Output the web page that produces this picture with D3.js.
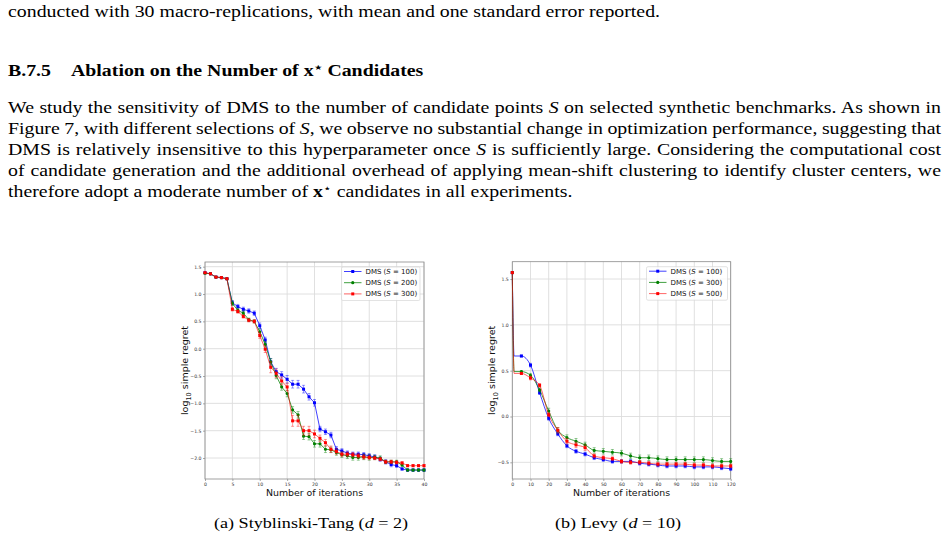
<!DOCTYPE html>
<html>
<head>
<meta charset="utf-8">
<script src="https://cdn.jsdelivr.net/npm/d3@7"></script>
<style>
  body { margin: 0; background: #fff; }
  svg { display: block; }
</style>
</head>
<body>
<svg id="page" width="949" height="541"></svg>
<script>
// ---- data: Styblinski-Tang (d = 2) ----
const stIter = d3.range(0, 41);
const stS100 = [1.39,1.37,1.31,1.30,1.28,0.84,0.77,0.72,0.69,0.65,0.42,0.16,-0.24,-0.42,-0.48,-0.56,-0.65,-0.65,-0.74,-0.88,-0.99,-1.47,-1.52,-1.58,-1.84,-1.87,-1.91,-1.93,-1.93,-1.94,-1.96,-1.98,-2.02,-2.07,-2.12,-2.14,-2.20,-2.22,-2.22,-2.22,-2.22];
const stS200 = [1.38,1.37,1.31,1.30,1.28,0.83,0.70,0.65,0.53,0.50,0.31,0.08,-0.24,-0.49,-0.70,-0.82,-1.12,-1.21,-1.60,-1.61,-1.74,-1.74,-1.84,-1.85,-1.90,-1.94,-1.96,-1.99,-1.99,-1.98,-1.99,-1.99,-2.00,-2.07,-2.07,-2.07,-2.13,-2.22,-2.22,-2.22,-2.22];
const stS300 = [1.39,1.37,1.31,1.30,1.28,0.72,0.68,0.59,0.52,0.50,0.24,-0.01,-0.34,-0.45,-0.59,-0.70,-1.32,-1.32,-1.50,-1.50,-1.56,-1.64,-1.72,-1.84,-1.88,-1.93,-1.93,-1.94,-1.96,-1.98,-1.99,-2.00,-2.02,-2.07,-2.07,-2.08,-2.09,-2.14,-2.14,-2.14,-2.14];
const stS100Err = [0.01,0.01,0.01,0.01,0.01,0.04,0.04,0.04,0.04,0.04,0.05,0.05,0.06,0.06,0.06,0.07,0.07,0.07,0.07,0.06,0.06,0.05,0.05,0.05,0.05,0.04,0.04,0.04,0.04,0.04,0.04,0.04,0.04,0.04,0.04,0.03,0.02,0.02,0.02,0.02,0.02];
const stS200Err = [0.01,0.01,0.01,0.01,0.01,0.04,0.04,0.04,0.03,0.03,0.05,0.05,0.06,0.06,0.06,0.06,0.06,0.06,0.06,0.06,0.06,0.06,0.06,0.05,0.05,0.05,0.05,0.05,0.05,0.05,0.05,0.04,0.04,0.03,0.03,0.03,0.02,0.02,0.02,0.02,0.02];
const stS300Err = [0.01,0.01,0.01,0.01,0.01,0.03,0.03,0.03,0.03,0.03,0.05,0.06,0.10,0.08,0.07,0.07,0.10,0.10,0.08,0.08,0.07,0.06,0.06,0.06,0.05,0.04,0.04,0.04,0.04,0.04,0.04,0.03,0.03,0.03,0.03,0.03,0.02,0.02,0.02,0.02,0.02];

// ---- data: Levy (d = 10) ----
const levyIter = [0,1,5,10,15,20,25,30,35,40,45,50,55,60,65,70,75,80,85,90,95,100,105,110,115,120];
const levyS100 = [1.57,0.66,0.66,0.56,0.26,-0.02,-0.19,-0.32,-0.38,-0.41,-0.45,-0.47,-0.49,-0.49,-0.49,-0.51,-0.52,-0.53,-0.54,-0.54,-0.54,-0.55,-0.55,-0.55,-0.56,-0.57];
const levyS300 = [1.57,0.49,0.49,0.45,0.29,0.06,-0.15,-0.23,-0.27,-0.31,-0.37,-0.38,-0.39,-0.40,-0.43,-0.45,-0.45,-0.46,-0.47,-0.47,-0.47,-0.47,-0.47,-0.48,-0.49,-0.49];
const levyS500 = [1.57,0.47,0.47,0.42,0.34,0.02,-0.15,-0.27,-0.31,-0.34,-0.43,-0.45,-0.46,-0.49,-0.50,-0.50,-0.51,-0.52,-0.52,-0.52,-0.52,-0.53,-0.53,-0.54,-0.54,-0.54];
const levyS100Err = [0.01,0.01,0.01,0.02,0.02,0.02,0.02,0.02,0.02,0.02,0.02,0.02,0.02,0.02,0.02,0.02,0.02,0.02,0.02,0.02,0.02,0.02,0.02,0.02,0.02,0.02];
const levyS300Err = [0.01,0.01,0.01,0.02,0.02,0.03,0.03,0.03,0.03,0.03,0.03,0.03,0.03,0.03,0.03,0.03,0.03,0.03,0.03,0.03,0.03,0.03,0.03,0.03,0.03,0.03];
const levyS500Err = [0.01,0.01,0.01,0.02,0.02,0.02,0.03,0.03,0.03,0.03,0.02,0.02,0.02,0.02,0.02,0.02,0.02,0.02,0.02,0.02,0.02,0.02,0.02,0.02,0.02,0.02];

// tick labels
const stXTicks = [0,5,10,15,20,25,30,35,40];
const stYTicks = [1.5,1.0,0.5,0.0,-0.5,-1.0,-1.5,-2.0];
const levyXTicks = [0,10,20,30,40,50,60,70,80,90,100,110,120];
const levyYTicks = [1.5,1.0,0.5,0.0,-0.5];

const stLabels = ["100", "200", "300"];
const levyLabels = ["100", "300", "500"];

// ---- prose ----
const serif = "'Liberation Serif', 'Times New Roman', serif";
const sans = "'DejaVu Sans', sans-serif";
const svg = d3.select("#page");

// the page text is rendered a bit wider than plain Times, so stretch it horizontally
const sx = 1.24;
const fs = 16;

function addLine(x, y, segs, width, size, weight) {
  const t = svg.append("text")
    .attr("transform", `translate(${x},${y}) scale(${sx},1)`)
    .attr("font-family", serif)
    .attr("font-size", size)
    .attr("font-weight", weight || "normal")
    .attr("fill", "#000");
  segs.forEach(s => {
    const sp = t.append("tspan").text(s.t);
    if (s.i) sp.attr("font-style", "italic");
    if (s.b) sp.attr("font-weight", "bold");
    if (s.sup) sp.attr("font-size", size * 0.7).attr("dy", -5);
    if (s.down) sp.attr("dy", 5);
  });
  if (width) {
    const natural = t.node().getComputedTextLength();
    const nSpaces = segs.map(s => s.t).join("").split(" ").length - 1;
    t.attr("word-spacing", (width / sx - natural) / nSpaces);
  }
  return t;
}

addLine(8, 17, [{t: "conducted with 30 macro-replications, with mean and one standard error reported."}], null, fs);
addLine(8, 76, [{t: "B.7.5"}], null, fs, "bold");
addLine(71, 76, [{t: "Ablation on the Number of "}, {t: "x", b: true}, {t: "\u22C6", sup: true}, {t: " Candidates", down: true}], null, fs, "bold");

const paraW = 933;
addLine(8, 113, [{t: "We study the sensitivity of DMS to the number of candidate points "}, {t: "S", i: true}, {t: " on selected synthetic benchmarks. As shown in"}], paraW, fs);
addLine(8, 134, [{t: "Figure 7, with different selections of "}, {t: "S", i: true}, {t: ", we observe no substantial change in optimization performance, suggesting that"}], paraW, fs);
addLine(8, 155, [{t: "DMS is relatively insensitive to this hyperparameter once "}, {t: "S", i: true}, {t: " is sufficiently large. Considering the computational cost"}], paraW, fs);
addLine(8, 176, [{t: "of candidate generation and the additional overhead of applying mean-shift clustering to identify cluster centers, we"}], paraW, fs);
addLine(8, 197, [{t: "therefore adopt a moderate number of "}, {t: "x", b: true}, {t: "\u22C6", sup: true}, {t: " candidates in all experiments.", down: true}], null, fs);

// ---- panels ----
const colors = ["#0000ff", "#008000", "#ff0000"];

function drawPanel(cfg) {
  const x = d3.scaleLinear().domain(cfg.xDomain).range([cfg.left, cfg.right]);
  const y = d3.scaleLinear().domain(cfg.yDomain).range([cfg.bottom, cfg.top]);
  const g = svg.append("g");

  // grid
  g.append("g").selectAll("line").data(cfg.xTicks).join("line")
    .attr("x1", d => x(d)).attr("x2", d => x(d))
    .attr("y1", cfg.top).attr("y2", cfg.bottom)
    .attr("stroke", "#dcdcdc").attr("stroke-width", 0.9);
  g.append("g").selectAll("line").data(cfg.yTicks).join("line")
    .attr("y1", d => y(d)).attr("y2", d => y(d))
    .attr("x1", cfg.left).attr("x2", cfg.right)
    .attr("stroke", "#dcdcdc").attr("stroke-width", 0.9);

  // axes
  const xAxis = d3.axisBottom(x).tickValues(cfg.xTicks).tickSize(2).tickPadding(1.5)
    .tickFormat(d3.format("d"));
  const yAxis = d3.axisLeft(y).tickValues(cfg.yTicks).tickSize(2).tickPadding(1.5)
    .tickFormat(d => d3.format(".1f")(d).replace("-", "\u2212"));
  [g.append("g").attr("transform", `translate(0,${cfg.bottom})`).call(xAxis),
   g.append("g").attr("transform", `translate(${cfg.left},0)`).call(yAxis)].forEach(a => {
    a.select(".domain").remove();
    a.selectAll(".tick line").attr("stroke", "#555").attr("stroke-width", 0.5);
    a.selectAll(".tick text").attr("font-family", sans).attr("font-size", 4.6).attr("fill", "#333");
  });

  // frame
  g.append("rect")
    .attr("x", cfg.left).attr("y", cfg.top)
    .attr("width", cfg.right - cfg.left).attr("height", cfg.bottom - cfg.top)
    .attr("fill", "none").attr("stroke", "#8a8a8a").attr("stroke-width", 0.8);

  // series
  const plot = g.append("g");
  cfg.series.forEach((s, si) => {
    const c = colors[si];
    const pts = cfg.iter.map((it, i) => ({x: it, y: s.values[i], e: s.err[i]}));
    const line = d3.line().x(d => x(d.x)).y(d => y(d.y)).curve(cfg.curve);
    plot.append("path").datum(pts)
      .attr("d", line).attr("fill", "none")
      .attr("stroke", c).attr("stroke-width", 1).attr("stroke-opacity", si === 2 ? 0.6 : 0.75);
    const mk = pts.filter(d => d.x % cfg.markEvery === 0);
    const eg = plot.append("g").attr("stroke", c).attr("stroke-opacity", 0.5).attr("stroke-width", 0.8);
    eg.selectAll("line.v").data(mk).join("line").attr("class", "v")
      .attr("x1", d => x(d.x)).attr("x2", d => x(d.x))
      .attr("y1", d => y(d.y - d.e)).attr("y2", d => y(d.y + d.e));
    eg.selectAll("line.t").data(mk).join("line").attr("class", "t")
      .attr("x1", d => x(d.x) - 1.5).attr("x2", d => x(d.x) + 1.5)
      .attr("y1", d => y(d.y + d.e)).attr("y2", d => y(d.y + d.e));
    eg.selectAll("line.b").data(mk).join("line").attr("class", "b")
      .attr("x1", d => x(d.x) - 1.5).attr("x2", d => x(d.x) + 1.5)
      .attr("y1", d => y(d.y - d.e)).attr("y2", d => y(d.y - d.e));
    const sym = d3.symbol().type(si === 1 ? d3.symbolCircle : d3.symbolSquare).size(si === 1 ? 8 : 9);
    plot.append("g").selectAll("path").data(mk).join("path")
      .attr("transform", d => `translate(${x(d.x)},${y(d.y)})`)
      .attr("d", sym).attr("fill", c);
  });

  // axis labels
  g.append("text")
    .attr("x", (cfg.left + cfg.right) / 2).attr("y", cfg.bottom + 17)
    .attr("text-anchor", "middle")
    .attr("font-family", sans).attr("font-size", 9.4).attr("fill", "#111")
    .text("Number of iterations");
  const yl = g.append("text")
    .attr("transform", `translate(${cfg.ylabelX},${(cfg.top + cfg.bottom) / 2}) rotate(-90)`)
    .attr("text-anchor", "middle")
    .attr("font-family", sans).attr("font-size", 9.5).attr("fill", "#111");
  yl.append("tspan").text("log");
  yl.append("tspan").text("10").attr("font-size", 6.6).attr("dy", 2.5);
  yl.append("tspan").text(" simple regret").attr("dy", -2.5);

  // legend
  const lg = g.append("g").attr("transform", `translate(${cfg.legendX},${cfg.top + 5})`);
  lg.append("rect").attr("width", cfg.legendW).attr("height", 33.5).attr("rx", 1.5)
    .attr("fill", "#fff").attr("fill-opacity", 0.8).attr("stroke", "#d0d0d0").attr("stroke-width", 0.6);
  cfg.labels.forEach((lab, i) => {
    const ly = 4.5 + i * 11.2;
    lg.append("line").attr("x1", 2.5).attr("x2", 20).attr("y1", ly).attr("y2", ly)
      .attr("stroke", colors[i]).attr("stroke-width", 1).attr("stroke-opacity", i === 2 ? 0.6 : 0.75);
    lg.append("path").attr("transform", `translate(11.25,${ly})`)
      .attr("d", d3.symbol().type(i === 1 ? d3.symbolCircle : d3.symbolSquare).size(i === 1 ? 8 : 9))
      .attr("fill", colors[i]);
    const tx = lg.append("text").attr("x", 24).attr("y", ly + 2.4)
      .attr("font-family", sans).attr("font-size", 7).attr("fill", "#111");
    tx.append("tspan").text("DMS (");
    tx.append("tspan").text("S").attr("font-style", "italic");
    tx.append("tspan").text(" = " + lab + ")");
  });
}

drawPanel({
  left: 205, right: 424, top: 262, bottom: 479,
  xDomain: [0, 40], yDomain: [-2.384, 1.586],
  xTicks: stXTicks, yTicks: stYTicks,
  iter: stIter, markEvery: 1, curve: d3.curveLinear,
  series: [
    {values: stS100, err: stS100Err},
    {values: stS200, err: stS200Err},
    {values: stS300, err: stS300Err}
  ],
  labels: stLabels, legendX: 341.5, legendW: 78.5, ylabelX: 188
});

drawPanel({
  left: 512.3, right: 730.7, top: 261.7, bottom: 479,
  xDomain: [0, 120], yDomain: [-0.682, 1.689],
  xTicks: levyXTicks, yTicks: levyYTicks,
  iter: levyIter, markEvery: 5, curve: d3.curveMonotoneX,
  series: [
    {values: levyS100, err: levyS100Err},
    {values: levyS300, err: levyS300Err},
    {values: levyS500, err: levyS500Err}
  ],
  labels: levyLabels, legendX: 646.5, legendW: 81, ylabelX: 495
});

// ---- captions ----
function caption(cx, segs) {
  const t = svg.append("text")
    .attr("transform", `translate(${cx},528) scale(1.21,1)`)
    .attr("text-anchor", "middle")
    .attr("font-family", serif).attr("font-size", 15).attr("fill", "#000");
  segs.forEach(s => {
    const sp = t.append("tspan").text(s.t);
    if (s.i) sp.attr("font-style", "italic");
  });
}
caption(311, [{t: "(a) Styblinski-Tang ("}, {t: "d", i: true}, {t: " = 2)"}]);
caption(618, [{t: "(b) Levy ("}, {t: "d", i: true}, {t: " = 10)"}]);
</script>
</body>
</html>
